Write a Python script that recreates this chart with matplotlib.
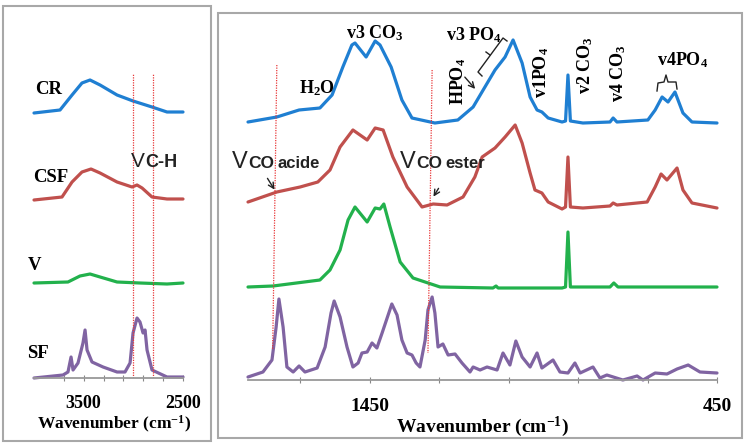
import matplotlib
matplotlib.use('Agg')
import matplotlib.pyplot as plt
from matplotlib.lines import Line2D
from matplotlib.patches import Rectangle, FancyArrowPatch

plt.rcParams['mathtext.fontset'] = 'custom'
plt.rcParams['mathtext.rm'] = 'Liberation Serif:bold'
plt.rcParams['mathtext.bf'] = 'Liberation Serif:bold'
plt.rcParams['mathtext.it'] = 'Liberation Serif:bold'

W, H = 747, 445
SERIF, SANS = 'Liberation Serif', 'Liberation Sans'

# ---- spectra: wavenumber (cm-1) and band height above own baseline ----
# 4000-2500 cm-1 window
cr_hi_w = [4000, 3738, 3617, 3517, 3436, 3335, 3164, 3003, 2812, 2661, 2500]
cr_hi_h = [0, 3, 18, 30, 33, 28, 18, 12, 6, 1, 1]
csf_hi_w = [4000, 3718, 3617, 3517, 3426, 3335, 3164, 3013, 2963, 2912, 2812, 2661, 2500]
csf_hi_h = [0, 3, 18, 28, 31, 27, 18, 13, 15, 12, 3, 1, 1]
v_hi_w = [4000, 3658, 3537, 3436, 3335, 3164, 2933, 2661, 2500]
v_hi_h = [1, 2, 8, 10, 7, 2, 1, 0, 1]
sf_hi_w = [4000, 3708, 3658, 3627, 3607, 3557, 3507, 3486, 3466, 3416, 3305, 3164,
           3084, 3033, 3003, 2963, 2933, 2902, 2882, 2862, 2812, 2661, 2500]
sf_hi_h = [0, 3, 6, 21, 8, 15, 35, 48, 28, 16, 11, 6,
           6, 15, 45, 60, 56, 45, 48, 28, 8, 1, 1]

# 1800-450 cm-1 window
cr_lo_w = [1800, 1717, 1653, 1593, 1558, 1527, 1501, 1492, 1460, 1434,
           1420, 1388, 1357, 1328, 1262, 1196, 1152, 1118, 1089, 1060,
           1037, 1011, 988, 968, 954, 936, 896, 886, 879, 872,
           836, 758, 749, 738, 649, 628, 608, 591, 571, 548, 522, 450]
cr_lo_h = [1, 6, 13, 15, 28, 56, 78, 80, 66, 82,
           78, 56, 23, 5, 0, 3, 16, 36, 53, 66,
           83, 60, 26, 13, 11, 5, 1, 2, 48, 2,
           0, 1, 5, 1, 3, 13, 26, 21, 31, 10, 1, 0]
csf_lo_w = [1800, 1717, 1650, 1599, 1564, 1535, 1498, 1457, 1434, 1411,
            1383, 1342, 1299, 1267, 1227, 1181, 1147, 1126, 1089, 1060,
            1031, 1011, 988, 974, 954, 936, 896, 886, 879, 872,
            836, 758, 749, 738, 651, 628, 611, 594, 565, 548, 522, 450]
csf_lo_h = [7, 17, 22, 27, 39, 62, 79, 69, 81, 79,
            52, 22, 2, 5, 4, 12, 32, 52, 61, 72,
            84, 66, 36, 19, 16, 7, 0, 2, 52, 2,
            1, 3, 6, 4, 7, 22, 35, 29, 41, 19, 6, 1]
v_lo_w = [1800, 1728, 1593, 1564, 1535, 1512, 1492, 1457, 1434, 1420, 1409, 1391, 1362,
          1325, 1247, 1095, 1086, 1080, 896, 886, 879, 872, 758, 747, 735, 450]
v_lo_h = [1, 2, 8, 18, 38, 68, 81, 66, 80, 79, 84, 61, 26,
          10, 1, 0, 2, 0, 0, 1, 56, 1, 1, 5, 1, 1]
sf_lo_w = [1800, 1757, 1731, 1719, 1711, 1699, 1688, 1670, 1653, 1636,
           1601, 1578, 1561, 1552, 1535, 1515, 1498, 1483, 1472, 1457,
           1443, 1429, 1414, 1386, 1371, 1357, 1342, 1328, 1316, 1305,
           1290, 1282, 1270, 1262, 1253, 1239, 1224, 1204, 1184, 1161,
           1152, 1132, 1112, 1083, 1066, 1046, 1029, 1011, 988, 968,
           954, 922, 902, 879, 859, 844, 807, 787, 767, 721,
           680, 663, 628, 594, 565, 533, 499, 450]
sf_lo_h = [3, 8, 20, 53, 81, 53, 13, 8, 14, 8,
           12, 33, 67, 79, 63, 33, 13, 17, 27, 28,
           37, 32, 47, 76, 65, 40, 27, 25, 17, 13,
           40, 70, 83, 67, 33, 36, 25, 26, 17, 8,
           13, 10, 13, 10, 27, 15, 39, 23, 13, 27,
           12, 20, 8, 7, 17, 7, 13, 2, 5, 0,
           4, 0, 7, 6, 11, 15, 8, 7]

samples = ['CR', 'CSF', 'V', 'SF']
hi_ticks = [3700, 3500, 3300, 3100, 2900, 2700, 2500]
hi_ticklabels = ['', '3500', '', '', '', '', '2500']
lo_ticks = [1650, 1450, 1250, 1050, 850, 650, 450]
lo_ticklabels = ['', '1450', '', '', '', '', '450']
ch_marks = [3000, 2805]                       # C-H stretch guides
co_marks = [(1717, 1729), (1270, 1282)]       # C=O acid / ester guides (top, bottom)

colors = {'CR': '#1f7fd2', 'CSF': '#c0504d', 'V': '#22b14c', 'SF': '#8064a2'}
hi_off = {'CR': 265, 'CSF': 178, 'V': 94, 'SF': 0}
lo_off = {'CR': 257, 'CSF': 171, 'V': 92, 'SF': 0}

hi = {'CR': (cr_hi_w, cr_hi_h), 'CSF': (csf_hi_w, csf_hi_h),
      'V': (v_hi_w, v_hi_h), 'SF': (sf_hi_w, sf_hi_h)}
lo = {'CR': (cr_lo_w, cr_lo_h), 'CSF': (csf_lo_w, csf_lo_h),
      'V': (v_lo_w, v_lo_h), 'SF': (sf_lo_w, sf_lo_h)}


def fx(px, py):
    return px / W, 1 - py / H


def ftext(px, py, s, **kw):
    fig.text(px / W, 1 - py / H, s, **kw)


fig = plt.figure(figsize=(W / 100, H / 100), dpi=100)
fig.patch.set_facecolor('white')

axL = fig.add_axes([34 / W, 1 - 378 / H, 149 / W, 358 / H])
axR = fig.add_axes([248 / W, 1 - 380 / H, 469 / W, 360 / H])

for ax, data, off, lim, ticks, labels, fs in [
        (axL, hi, hi_off, (4000, 2500), hi_ticks, hi_ticklabels, 13),
        (axR, lo, lo_off, (1800, 450), lo_ticks, lo_ticklabels, 14)]:
    for k in samples:
        w, h = data[k]
        ax.plot(w, [v + off[k] for v in h], color=colors[k], lw=2.3,
                solid_joinstyle='round', solid_capstyle='round', clip_on=False)
    ax.set_xlim(*lim)
    ax.set_ylim(0, 358 if ax is axL else 360)
    for sp in ('top', 'left', 'right'):
        ax.spines[sp].set_visible(False)
    ax.spines['bottom'].set_color('#999999')
    ax.spines['bottom'].set_linewidth(1.3)
    ax.set_yticks([])
    ax.set_xticks(ticks)
    ax.set_xticklabels(labels, fontfamily=SERIF, fontweight='bold', fontsize=fs)
    ax.tick_params(axis='x', direction='inout', length=4, width=0.8,
                   color='#888888', pad=10 if ax is axL else 11)
    ax.patch.set_alpha(0)

# dotted guide lines
for m in ch_marks:
    axL.plot([m, m], [0, 305], color='#e8393a', lw=0.9, ls=(0, (1, 1)))
for (top, bot), (yt, yb) in zip(co_marks, [(315, 30), (310, 27)]):
    axR.plot([top, bot], [yt, yb], color='#e8393a', lw=0.9, ls=(0, (1, 1)))

# panel frames
fig.add_artist(Rectangle(fx(3, 441), 208 / W, 435 / H, transform=fig.transFigure,
                         fill=False, ec='#a8a8a8', lw=1.5))
fig.add_artist(Rectangle(fx(218, 438), 524 / W, 425 / H, transform=fig.transFigure,
                         fill=False, ec='#a8a8a8', lw=1.5))

# sample labels
for k, (px, py) in zip(samples, [(49, 90), (51, 178), (35, 265), (38, 353)]):
    ftext(px, py, k, fontfamily=SERIF, fontweight='bold', fontsize=13.5,
          ha='center', va='center')

# axis titles
ftext(114, 424, 'Wavenumber (cm$^{-1}$)', fontfamily=SERIF, fontweight='bold',
      fontsize=12.5, ha='center', va='center')
ftext(482, 427, 'Wavenumber (cm$^{-1}$)', fontfamily=SERIF, fontweight='bold',
      fontsize=14, ha='center', va='center')

# band annotations (serif)
ser = dict(fontfamily=SERIF, fontweight='bold', fontsize=13)
ftext(375, 38, 'v3 CO$_3$', ha='center', va='baseline', **ser)
ftext(317, 93, 'H$_2$O', ha='center', va='baseline', **ser)
ftext(446, 40, 'v3 PO$_4$', ha='left', va='baseline', **ser)
ftext(683, 65, 'v4PO$_4$', ha='center', va='baseline', **ser)
ftext(458, 81, 'HPO$_4$', ha='center', va='center', rotation=90, **ser)
ftext(541, 72, 'v1PO$_4$', ha='center', va='center', rotation=90, **ser)
ftext(585, 65, 'v2 CO$_3$', ha='center', va='center', rotation=90, **ser)
ftext(618, 73, 'v4 CO$_3$', ha='center', va='center', rotation=90, **ser)

# stretch-mode annotations (sans)
for x0, base, rest in [(232, 168, 'acide'), (400, 168, 'ester')]:
    ftext(x0, base, 'V', fontfamily=SANS, fontsize=17, ha='left', va='baseline',
          color='#222222')
    ftext(x0 + 16, base, 'CO', fontfamily=SANS, fontweight='bold', fontsize=12.5,
          ha='left', va='baseline', color='#222222')
    ftext(x0 + 45, base, rest, fontfamily=SANS, fontweight='bold', fontsize=12,
          ha='left', va='baseline', color='#222222')
ftext(131, 167, 'V', fontfamily=SANS, fontsize=15, ha='left', va='baseline',
      color='#222222')
ftext(145, 167, 'C-H', fontfamily=SANS, fontweight='bold', fontsize=13,
      ha='left', va='baseline', color='#222222')

# arrows
arr = dict(arrowstyle='->', color='#222222', lw=1.0, mutation_scale=10)
for start, end in [((266, 176), (276, 192)), ((440, 186), (432, 199)),
                   ((463, 75), (477, 91))]:
    fig.add_artist(FancyArrowPatch(fx(*start), fx(*end),
                                   transform=fig.transFigure, **arr))


# brackets
def poly(pts):
    xs = [p[0] / W for p in pts]
    ys = [1 - p[1] / H for p in pts]
    fig.add_artist(Line2D(xs, ys, color='#222222', lw=1.0,
                          transform=fig.transFigure))


poly([(482, 76), (478, 72), (503, 38), (507, 41)])
poly([(490, 55), (486, 52)])
poly([(657, 91), (658, 83), (664, 82), (666, 75), (668, 82), (676, 82), (677, 89)])

fig.savefig('out.png', dpi=100, facecolor='white')
